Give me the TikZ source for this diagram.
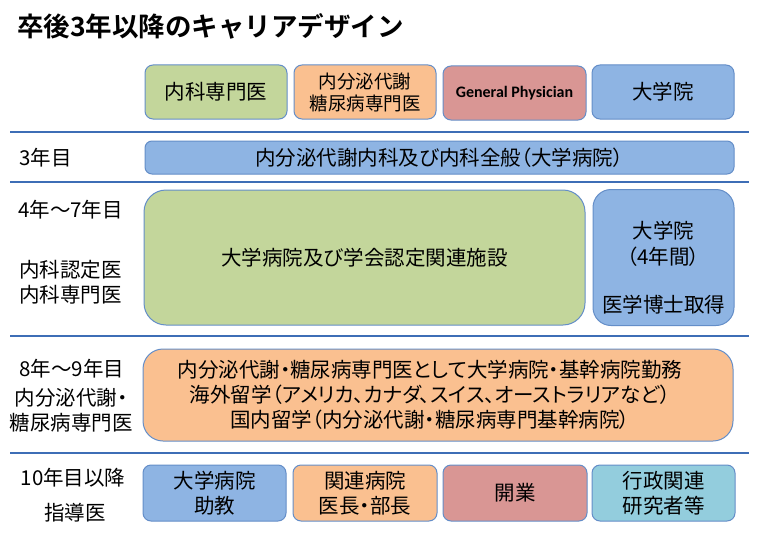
\documentclass[tikz,border=0pt]{standalone}
\usepackage{fontspec}
\setmainfont{Noto Sans CJK JP}[BoldFont={Noto Sans CJK JP Bold}, RawFeature=+palt]
\newfontfamily\titlefont{Noto Sans CJK JP Bold}
\newfontfamily\calfont{Carlito}
\definecolor{gfill}{RGB}{195,214,155}
\definecolor{ofill}{RGB}{250,192,144}
\definecolor{rfill}{RGB}{217,150,148}
\definecolor{bfill}{RGB}{142,180,227}
\definecolor{cfill}{RGB}{147,205,221}
\definecolor{bord}{RGB}{100,142,200}
\definecolor{sepline}{RGB}{62,110,182}
\begin{document}
\begin{tikzpicture}[x=1pt,y=-1pt,
  box/.style={draw=bord, line width=1pt, rounded corners=8pt, inner sep=0pt, align=center, text=black},
  bigbox/.style={box, rounded corners=20pt},
  sep/.style={draw=sepline, line width=2pt},
  lab/.style={inner sep=0pt, text=black, font=\fontsize{20.5}{25}\selectfont},
  t20/.style={font=\fontsize{20.5}{25}\selectfont},
]
\useasboundingbox[fill=white] (0,0) rectangle (760,543);

% title
\node[anchor=west, inner sep=0pt, font=\titlefont\fontsize{26.5}{30}\selectfont] (title) at (17,26) {卒後3年以降のキャリアデザイン};

% top header boxes
\node[box, fill=gfill, minimum width=142pt, minimum height=54pt, t20] (h1) at (216,92) {内科専門医};
\node[box, fill=ofill, minimum width=142pt, minimum height=54pt, font=\fontsize{18.5}{22}\selectfont] (h2) at (365,92) {内分泌代謝\\糖尿病専門医};
\node[box, fill=rfill, minimum width=143pt, minimum height=54pt, font=\calfont\fontsize{16}{19}\selectfont\bfseries] (h3) at (514.5,93) {General Physician};
\node[box, fill=bfill, minimum width=142pt, minimum height=54pt, t20] (h4) at (663,92) {大学院};

% separators
\draw[sep] (10,132) -- (749,132);
\draw[sep] (10,182) -- (749,182);
\draw[sep] (10,336) -- (749,336);
\draw[sep] (10,453) -- (749,453);

% row: 3年目
\node[lab, anchor=west] (l3) at (19,158) {3年目};
\node[box, rounded corners=7pt, fill=bfill, minimum width=589pt, minimum height=33pt, t20] (r3) at (439.5,157.5) {内分泌代謝内科及び内科全般（大学病院）};

% row: 4-7年目
\node[lab, anchor=west] (l47) at (18,210) {4年～7年目};
\node[lab, anchor=west, align=left] (l47b) at (19,282.5) {内科認定医\\内科専門医};
\node[bigbox, rounded corners=22pt, fill=gfill, minimum width=441pt, minimum height=135pt, t20] (r47) at (364.5,257.5) {大学病院及び学会認定関連施設};
\node[bigbox, rounded corners=18pt, fill=bfill, minimum width=141pt, minimum height=136pt] (r47b) at (663.5,257.5) {};
\node[inner sep=0pt, align=center, font=\fontsize{20.5}{26}\selectfont] (r47t) at (663.5,243.5) {大学院\\（4年間）};
\node[inner sep=0pt, font=\fontsize{20.5}{26}\selectfont] (r47u) at (663.5,305) {医学博士取得};

% row: 8-9年目
\node[lab] (l89) at (72,369) {8年～9年目};
\node[lab, align=center] (l89b) at (71,410.5) {内分泌代謝・\\糖尿病専門医};
\node[bigbox, fill=ofill, minimum width=590pt, minimum height=92pt, font=\fontsize{20.5}{25}\selectfont] (r89) at (438,395) {};
\node[inner sep=0pt, align=center, font=\fontsize{20.5}{25}\selectfont] (r89t) at (430,395) {内分泌代謝・糖尿病専門医として大学病院・基幹病院勤務\\海外留学（アメリカ、カナダ、スイス、オーストラリアなど）\\国内留学（内分泌代謝・糖尿病専門基幹病院）};

% row: 10年目以降
\node[lab] (l10) at (73,478) {10年目以降};
\node[lab] (l10b) at (75,513) {指導医};
\node[box, fill=bfill, minimum width=143pt, minimum height=56pt, t20] (b1) at (214.5,493) {大学病院\\助教};
\node[box, fill=ofill, minimum width=144pt, minimum height=56pt, t20] (b2) at (365,493) {関連病院\\医長・部長};
\node[box, fill=rfill, minimum width=144pt, minimum height=56pt, t20] (b3) at (515,493) {開業};
\node[box, fill=cfill, minimum width=143pt, minimum height=56pt, t20] (b4) at (663.5,493) {行政関連\\研究者等};
\end{tikzpicture}
\end{document}
